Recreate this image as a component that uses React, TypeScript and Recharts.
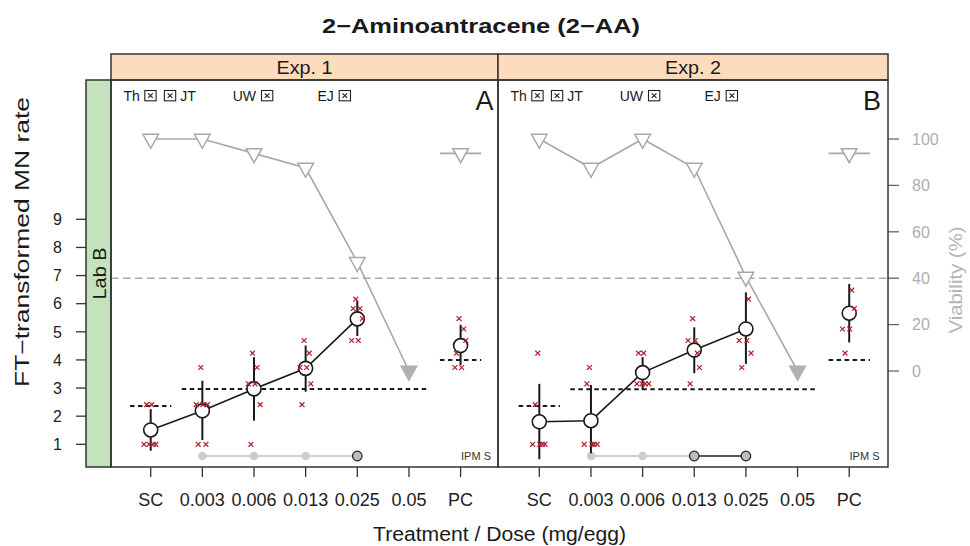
import React from 'react';
import { ComposedChart, Scatter, XAxis, YAxis } from 'recharts';

// ---------- data ----------
const doseLabels = ['SC', '0.003', '0.006', '0.013', '0.025', '0.05', 'PC'];
const stripLabels = ['Exp. 1', 'Exp. 2'];
const panelTags = ['A', 'B'];
const mnTicks = [1, 2, 3, 4, 5, 6, 7, 8, 9];
const viaTicks = [0, 20, 40, 60, 80, 100];

// FT-transformed MN rate: mean and mean ± SD per dose (null = not evaluated)
const meanA = [1.51, 2.19, 2.97, 3.70, 5.46, null, 4.51];
const loA = [0.77, 1.15, 1.84, 2.87, 4.85, null, 3.82];
const hiA = [2.25, 3.26, 4.10, 4.51, 6.11, null, 5.25];
const meanB = [1.80, 1.84, 3.55, 4.35, 5.10, null, 5.66];
const loB = [0.47, 0.68, 2.93, 3.53, 3.86, null, 4.62];
const hiB = [3.15, 3.11, 4.10, 5.16, 6.40, null, 6.70];

// reference levels (SC, treated, PC)
const scLevel = [2.36, 2.36];
const trtLevel = [2.97, 2.96];
const pcLevel = [4.0, 4.0];

// viability (%)
const viaA = [100, 100, 93.8, 87.5, 46.9, 0, 93.8];
const viaB = [100, 87.5, 100, 87.5, 40.6, 0, 93.8];
const viaThreshold = 40;

// individual replicates: [dose index, jitter, FT value]
const repA: [number, number, number][] = [
  [0, -0.08, 2.41], [0, 0.02, 2.41], [0, -0.13, 1], [0, -0.03, 1], [0, 0.05, 1], [0, 0.1, 1],
  [1, -0.03, 3.73], [1, -0.12, 2.41], [1, 0.01, 2.41], [1, 0.1, 2.41], [1, -0.08, 1], [1, 0.07, 1],
  [2, -0.03, 4.24], [2, 0.06, 3.73], [2, -0.11, 3.15], [2, 0.02, 3.15], [2, 0.12, 2.41], [2, -0.06, 1],
  [3, -0.03, 4.69], [3, 0.07, 4.24], [3, -0.11, 3.73], [3, 0.02, 3.73], [3, 0.1, 3.15], [3, -0.07, 2.41],
  [4, -0.03, 6.16], [4, -0.08, 5.83], [4, 0.05, 5.83], [4, 0.1, 5.47], [4, -0.11, 4.69], [4, 0.02, 4.69],
  [6, -0.03, 5.47], [6, 0.06, 5.1], [6, 0.1, 4.69], [6, -0.08, 4.24], [6, -0.11, 3.73], [6, 0.02, 3.73],
];
const repB: [number, number, number][] = [
  [0, -0.03, 4.24], [0, -0.08, 2.41], [0, -0.13, 1], [0, 0.01, 1], [0, 0.06, 1], [0, 0.11, 1],
  [1, -0.03, 3.73], [1, -0.08, 3.15], [1, -0.13, 1], [1, 0.02, 1], [1, 0.06, 1], [1, 0.12, 1],
  [2, -0.08, 4.24], [2, 0.02, 4.24], [2, -0.11, 3.15], [2, -0.01, 3.15], [2, 0.05, 3.15], [2, 0.12, 3.15],
  [3, -0.03, 5.47], [3, -0.12, 4.69], [3, 0.02, 4.69], [3, 0.06, 4.24], [3, 0.1, 3.73], [3, -0.08, 3.15],
  [4, 0.05, 6.16], [4, -0.13, 4.69], [4, 0.02, 4.69], [4, 0.1, 4.24], [4, -0.08, 3.73],
  [6, 0.05, 6.48], [6, 0.1, 5.83], [6, -0.13, 5.1], [6, 0.01, 5.1], [6, -0.08, 4.24],
];

// IPM S indicator: '' none, 'n' not significant, 's' significant
const ipmA = ['', 'n', 'n', 'n', 's', '', ''];
const ipmB = ['', 'n', 'n', 's', 's', '', ''];

// lab annotations at top of panels
const labNotes = [
  { t: 'Th', x: 12.5 }, { box: true, x: 33.8 }, { box: true, x: 53.4 }, { t: 'JT', x: 69.2 },
  { t: 'UW', x: 121.7 }, { box: true, x: 150.5 }, { t: 'EJ', x: 206.5 }, { box: true, x: 228.2 },
];

// ---------- layout ----------
const W = 970;
const H = 546;
const PL = 111;
const PR = 888;
const PT = 80;
const PB = 467;
const PANEL_EDGES = [111, 498, 888];
const X_DOMAIN: [number, number] = [0.2314, 15.275];
const MN_DOMAIN: [number, number] = [0.193, 13.953];
const VIA_DOMAIN: [number, number] = [-41.38, 125.43];
const PANEL_SHIFT = [0, 7.524];
const HALF = 0.4;
const IPM_Y = 0.584;
const FONT = '"Liberation Sans", Arial, Helvetica, sans-serif';

const panels = [
  { mean: meanA, lo: loA, hi: hiA, via: viaA, reps: repA, ipm: ipmA },
  { mean: meanB, lo: loB, hi: hiB, via: viaB, reps: repB, ipm: ipmB },
];

const pos = (p: number, i: number) => PANEL_SHIFT[p] + i + 1;
const xTicks: number[] = [];
const xTickLabel: Record<string, string> = {};
[0, 1].forEach((p) => doseLabels.forEach((d, i) => { xTicks.push(pos(p, i)); xTickLabel[String(pos(p, i))] = d; }));

// ---------- shapes ----------
const None = () => <g />;
const Tri = (props: any) => {
  const { cx, cy, payload } = props;
  if (cx == null || cy == null) return <g />;
  const filled = payload && payload.toxic;
  const w = 7.8, up = 4.67, down = 9.33;
  return (
    <polygon
      points={`${cx - w},${cy - up} ${cx + w},${cy - up} ${cx},${cy + down}`}
      fill={filled ? '#B0B0B0' : '#FFFFFF'}
      stroke={filled ? '#B0B0B0' : '#A8A8A8'}
      strokeWidth={1.5}
    />
  );
};
const MeanDot = (props: any) => {
  const { cx, cy } = props;
  if (cx == null || cy == null) return <g />;
  return <circle cx={cx} cy={cy} r={7} fill="#FFFFFF" stroke="#1A1A1A" strokeWidth={1.6} />;
};
const Cross = (props: any) => {
  const { cx, cy } = props;
  if (cx == null || cy == null) return <g />;
  const s = 2.4;
  return (
    <g stroke="#B01E2A" strokeWidth={1.2}>
      <line x1={cx - s} y1={cy - s} x2={cx + s} y2={cy + s} />
      <line x1={cx - s} y1={cy + s} x2={cx + s} y2={cy - s} />
    </g>
  );
};
const LightDot = (props: any) => {
  const { cx, cy } = props;
  if (cx == null || cy == null) return <g />;
  return <circle cx={cx} cy={cy} r={4.3} fill="#CCCCCC" />;
};
const DarkDot = (props: any) => {
  const { cx, cy } = props;
  if (cx == null || cy == null) return <g />;
  return <circle cx={cx} cy={cy} r={4.8} fill="#BDBDBD" stroke="#222222" strokeWidth={1.2} />;
};

// ---------- ticks ----------
const XTick = (props: any) => {
  const { x, payload } = props;
  return (
    <g>
      <line x1={x} x2={x} y1={PB} y2={PB + 10} stroke="#333" strokeWidth={1.3} />
      <text x={x} y={505.5} textAnchor="middle" fontSize={18} fill="#222" fontFamily={FONT}>
        {xTickLabel[String(payload.value)]}
      </text>
    </g>
  );
};
const LeftTick = (props: any) => {
  const { y, payload } = props;
  return (
    <g>
      <line x1={76} x2={86} y1={y} y2={y} stroke="#333" strokeWidth={1.3} />
      <text x={62} y={y} dy="0.36em" textAnchor="end" fontSize={16} fill="#222" fontFamily={FONT}>
        {payload.value}
      </text>
    </g>
  );
};
const RightTick = (props: any) => {
  const { y, payload } = props;
  return (
    <g>
      <line x1={PR} x2={PR + 11} y1={y} y2={y} stroke="#666" strokeWidth={1.3} />
      <text x={912} y={y} dy="0.36em" textAnchor="start" fontSize={16} fill="#AEAEAE" fontFamily={FONT}>
        {payload.value}
      </text>
    </g>
  );
};

function seg(key: string, pts: { x: number; y: number }[], stroke: string, width: number, dash?: string, axis = 'mn') {
  return (
    <Scatter
      key={key}
      yAxisId={axis}
      data={pts}
      line={{ stroke, strokeWidth: width, strokeDasharray: dash }}
      shape={None}
      isAnimationActive={false}
    />
  );
}

function panelLayers(p: number) {
  const d = panels[p];
  const out: React.ReactNode[] = [];
  // viability line (doses SC..0.05)
  const viaPts = d.via.slice(0, 6).map((v, i) => ({ x: pos(p, i), y: v, toxic: d.mean[i] == null }));
  out.push(
    <Scatter key={`via${p}`} yAxisId="via" data={viaPts} line={{ stroke: '#A8A8A8', strokeWidth: 1.6 }}
      shape={Tri} isAnimationActive={false} />
  );
  // PC viability with horizontal bar
  out.push(seg(`viapcbar${p}`, [{ x: pos(p, 6) - HALF, y: d.via[6] }, { x: pos(p, 6) + HALF, y: d.via[6] }], '#A8A8A8', 1.6, undefined, 'via'));
  out.push(
    <Scatter key={`viapc${p}`} yAxisId="via" data={[{ x: pos(p, 6), y: d.via[6], toxic: false }]}
      shape={Tri} isAnimationActive={false} />
  );
  // dashed reference levels
  out.push(seg(`sc${p}`, [{ x: pos(p, 0) - HALF, y: scLevel[p] }, { x: pos(p, 0) + HALF, y: scLevel[p] }], '#1A1A1A', 2, '4.5 3.5'));
  out.push(seg(`trt${p}`, [{ x: pos(p, 1) - HALF, y: trtLevel[p] }, { x: pos(p, 5) + HALF, y: trtLevel[p] }], '#1A1A1A', 2, '4.5 3.5'));
  out.push(seg(`pc${p}`, [{ x: pos(p, 6) - HALF, y: pcLevel[p] }, { x: pos(p, 6) + HALF, y: pcLevel[p] }], '#1A1A1A', 2, '4.5 3.5'));
  // IPM S indicators
  const marked = d.ipm.map((s, i) => (s ? i : -1)).filter((i) => i >= 0);
  const sig = d.ipm.map((s, i) => (s === 's' ? i : -1)).filter((i) => i >= 0);
  if (marked.length) {
    const lightEnd = sig.length ? sig[0] : marked[marked.length - 1];
    if (lightEnd > marked[0]) {
      out.push(seg(`ipml${p}`, [{ x: pos(p, marked[0]), y: IPM_Y }, { x: pos(p, lightEnd), y: IPM_Y }], '#D0D0D0', 2));
    }
    if (sig.length > 1) {
      out.push(seg(`ipms${p}`, [{ x: pos(p, sig[0]), y: IPM_Y }, { x: pos(p, sig[sig.length - 1]), y: IPM_Y }], '#222222', 1.5));
    }
    out.push(
      <Scatter key={`ipmdl${p}`} yAxisId="mn" data={d.ipm.map((s, i) => ({ s, i })).filter((o) => o.s === 'n').map((o) => ({ x: pos(p, o.i), y: IPM_Y }))}
        shape={LightDot} isAnimationActive={false} />
    );
    out.push(
      <Scatter key={`ipmds${p}`} yAxisId="mn" data={sig.map((i) => ({ x: pos(p, i), y: IPM_Y }))}
        shape={DarkDot} isAnimationActive={false} />
    );
  }
  // error bars (mean ± SD)
  d.mean.forEach((m, i) => {
    if (m == null) return;
    out.push(seg(`eb${p}_${i}`, [{ x: pos(p, i), y: d.lo[i] as number }, { x: pos(p, i), y: d.hi[i] as number }], '#1A1A1A', 2));
  });
  // mean line (treatment doses) and PC mean
  const meanPts = d.mean.slice(0, 6).map((m, i) => ({ x: pos(p, i), y: m })).filter((o) => o.y != null);
  out.push(
    <Scatter key={`mean${p}`} yAxisId="mn" data={meanPts} line={{ stroke: '#1A1A1A', strokeWidth: 1.6 }}
      shape={MeanDot} isAnimationActive={false} />
  );
  out.push(
    <Scatter key={`meanpc${p}`} yAxisId="mn" data={[{ x: pos(p, 6), y: d.mean[6] }]}
      shape={MeanDot} isAnimationActive={false} />
  );
  // replicates
  out.push(
    <Scatter key={`rep${p}`} yAxisId="mn" data={d.reps.map(([i, j, v]) => ({ x: pos(p, i) + j, y: v }))}
      shape={Cross} isAnimationActive={false} />
  );
  return out;
}

function BoxX({ x, y }: { x: number; y: number }) {
  return (
    <g stroke="#222" fill="none">
      <rect x={x} y={y} width={11.3} height={10.3} strokeWidth={1.1} />
      <line x1={x + 3.3} y1={y + 2.9} x2={x + 8} y2={y + 7.4} strokeWidth={1.2} />
      <line x1={x + 3.3} y1={y + 7.4} x2={x + 8} y2={y + 2.9} strokeWidth={1.2} />
    </g>
  );
}

export default function App() {
  return (
    <div style={{ position: 'absolute', left: 0, top: 0, width: W, height: H, background: '#fff', fontFamily: FONT }}>
      <div style={{ position: 'absolute', left: 0, top: 0 }}>
        <ComposedChart width={W} height={H} margin={{ top: PT, right: 0, bottom: 0, left: 0 }}>
          <XAxis type="number" dataKey="x" domain={X_DOMAIN} allowDataOverflow ticks={xTicks} interval={0}
            height={H - PB} axisLine={false} tickLine={false} tick={(pr: any) => <XTick {...pr} />} />
          <YAxis yAxisId="mn" type="number" dataKey="y" domain={MN_DOMAIN} allowDataOverflow ticks={mnTicks}
            interval={0} width={PL} axisLine={false} tickLine={false} tick={(pr: any) => <LeftTick {...pr} />} />
          <YAxis yAxisId="via" orientation="right" type="number" dataKey="y" domain={VIA_DOMAIN} allowDataOverflow
            ticks={viaTicks} interval={0} width={W - PR} axisLine={false} tickLine={false}
            tick={(pr: any) => <RightTick {...pr} />} />
          {seg('thr', [{ x: X_DOMAIN[0], y: viaThreshold }, { x: X_DOMAIN[1], y: viaThreshold }], '#AAAAAA', 1.5, '7.5 4.5', 'via')}
          {panelLayers(0)}
          {panelLayers(1)}
        </ComposedChart>
      </div>
      <svg width={W} height={H} style={{ position: 'absolute', left: 0, top: 0, pointerEvents: 'none' }} fontFamily={FONT}>
        <text x={481} y={33} textAnchor="middle" fontSize={21} fontWeight="bold" fill="#1A1A1A"
          textLength={318} lengthAdjust="spacingAndGlyphs">2−Aminoantracene (2−AA)</text>
        {stripLabels.map((s, i) => (
          <g key={s}>
            <rect x={PANEL_EDGES[i]} y={54} width={PANEL_EDGES[i + 1] - PANEL_EDGES[i]} height={PT - 54}
              fill="#FCDCBD" stroke="#333" strokeWidth={1.5} />
            <text x={(PANEL_EDGES[i] + PANEL_EDGES[i + 1]) / 2} y={73.5} textAnchor="middle" fontSize={18} fill="#1A1A1A"
              textLength={56} lengthAdjust="spacingAndGlyphs">{s}</text>
          </g>
        ))}
        <rect x={86} y={PT} width={PL - 86} height={PB - PT} fill="#C3E2BD" stroke="#333" strokeWidth={1.5} />
        <text transform={`translate(105.5, ${(PT + PB) / 2}) rotate(-90)`} textAnchor="middle" fontSize={18} fill="#1A1A1A"
          textLength={52} lengthAdjust="spacingAndGlyphs">Lab B</text>
        {[0, 1].map((i) => (
          <rect key={i} x={PANEL_EDGES[i]} y={PT} width={PANEL_EDGES[i + 1] - PANEL_EDGES[i]} height={PB - PT}
            fill="none" stroke="#333" strokeWidth={1.5} />
        ))}
        {[0, 1].map((i) => (
          <g key={`n${i}`}>
            {labNotes.map((n, k) =>
              n.box ? (
                <BoxX key={k} x={PANEL_EDGES[i] + n.x} y={90.5} />
              ) : (
                <text key={k} x={PANEL_EDGES[i] + n.x} y={100.7} fontSize={14} fill="#1A1A1A">{n.t}</text>
              )
            )}
            <text x={PANEL_EDGES[i + 1] - (i === 0 ? 4.5 : 7)} y={109.5} textAnchor="end" fontSize={27} fill="#1A1A1A">
              {panelTags[i]}
            </text>
            <text x={PANEL_EDGES[i + 1] - (i === 0 ? 7 : 8.5)} y={459.5} textAnchor="end" fontSize={11} fill="#333">IPM S</text>
          </g>
        ))}
        <text transform={`translate(29, 242) rotate(-90)`} textAnchor="middle" fontSize={20} fill="#1A1A1A"
          textLength={290} lengthAdjust="spacingAndGlyphs">FT−transformed MN rate</text>
        <text transform={`translate(962, 280) rotate(-90)`} textAnchor="middle" fontSize={19} fill="#B5B5B5"
          textLength={107} lengthAdjust="spacingAndGlyphs">Viability (%)</text>
        <text x={499.5} y={541} textAnchor="middle" fontSize={19.5} fill="#1A1A1A"
          textLength={253} lengthAdjust="spacingAndGlyphs">Treatment / Dose (mg/egg)</text>
      </svg>
    </div>
  );
}
